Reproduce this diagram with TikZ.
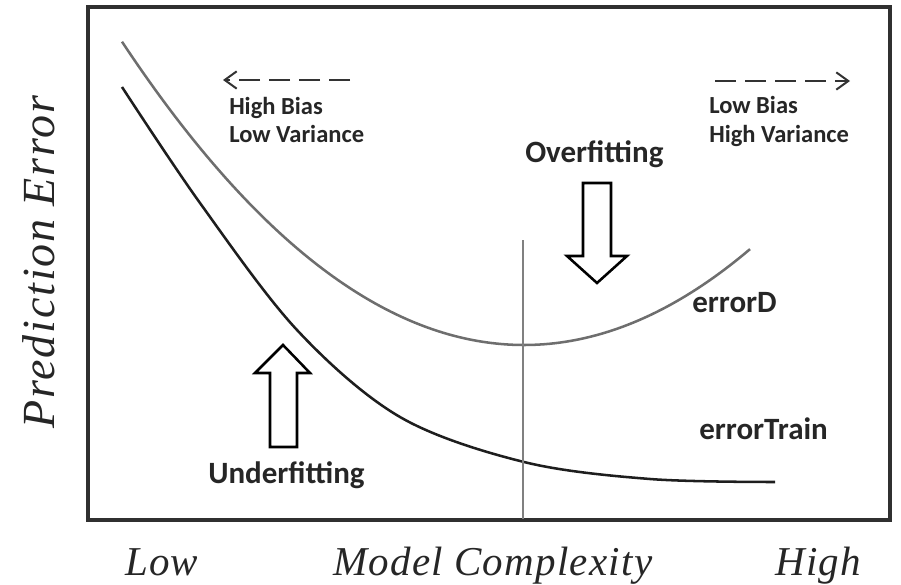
\documentclass[tikz,border=0pt]{standalone}
\usepackage{fontspec}
\setmainfont{Carlito}
\newfontfamily\axisfont{Liberation Serif}[LetterSpace=3]
\newfontfamily\axisfontwide{Liberation Serif}[LetterSpace=4]
\usetikzlibrary{arrows.meta}

\definecolor{frame}{HTML}{303030}
\definecolor{devcurve}{HTML}{6E6E6E}
\definecolor{traincurve}{HTML}{1E1E1E}
\definecolor{divider}{HTML}{808080}

\tikzset{
  biglabel/.style={font=\bfseries\fontsize{23.25pt}{28pt}\selectfont, inner sep=0pt, text=black!85},
  smalllabel/.style={font=\bfseries\fontsize{18.4pt}{22pt}\selectfont, inner sep=0pt, text=black!85},
  axislabel/.style={font=\axisfont\itshape\fontsize{30.75pt}{36pt}\selectfont, inner sep=0pt, text=black!85},
  trendarrow/.style={line width=1.5pt, dash pattern=on 15.75pt off 6.75pt, black!80,
    -{Straight Barb[length=9pt, width=13pt, line width=1.5pt]}},
  blockarrow/.style={draw=black, line width=1.9pt, fill=white, line join=miter},
}

\begin{document}
\begin{tikzpicture}[x=0.75pt, y=-0.75pt]
  \useasboundingbox (0,0) rectangle (901,585);

  % plot frame
  \draw[frame, line width=2.3pt] (88,7) rectangle (890,520);

  % validation error curve
  \draw[devcurve, line width=1.9pt, domain=122:750, samples=120]
    plot (\x, {345-0.001875*(\x-524)*(\x-524)});

  % training error curve
  \draw[traincurve, line width=1.9pt]
    plot[smooth, tension=0.55] coordinates
    {(122,87) (200,203) (297,330) (400,417) (524,462) (650,479) (775,482)};

  % best-complexity divider
  \coordinate (divtop) at (523,240);
  \coordinate (divbot) at (523,519);
  \draw[divider, line width=1.4pt] (divtop) -- (divbot);

  % trend arrows
  \coordinate (leftstart) at (350,80);
  \coordinate (leftend) at (223,80);
  \draw[trendarrow] (leftstart) -- (leftend);
  \coordinate (rightstart) at (715,81);
  \coordinate (rightend) at (850,81);
  \draw[trendarrow] (rightstart) -- (rightend);

  \node[smalllabel, anchor=base west] (hb) at (229,115) {High Bias};
  \node[smalllabel, anchor=base west] (lv) at (229,143) {Low Variance};
  \node[smalllabel, anchor=base west] (lb) at (709,114) {Low Bias};
  \node[smalllabel, anchor=base west] (hv) at (709,143) {High Variance};

  % overfitting marker
  \node[biglabel, anchor=base west] (over) at (525,162) {Overfitting};
  \draw[blockarrow] (583,183) -- (611,183) -- (611,256) -- (627,256) -- (597,283)
    -- (567,256) -- (583,256) -- cycle;

  % underfitting marker
  \draw[blockarrow] (270,447) -- (297,447) -- (297,373) -- (310,373) -- (283,345)
    -- (255,373) -- (270,373) -- cycle;
  \node[biglabel, anchor=base west] (under) at (208,483) {Underfitting};

  % curve names
  \node[biglabel, anchor=base west] (errd) at (692,312) {errorD};
  \node[biglabel, anchor=base west] (errt) at (699,439) {errorTrain};

  % axis titles
  \node[axislabel, anchor=base west] (low) at (125,575) {Low};
  \node[axislabel, anchor=base west] (mc) at (333,575) {Model Complexity};
  \node[axislabel, anchor=base west] (high) at (775,575) {High};
  \node[font=\axisfontwide\itshape\fontsize{34.5pt}{40pt}\selectfont, inner sep=0pt,
        text=black!85, rotate=90, anchor=base] (pe) at (55,262) {Prediction Error};
\end{tikzpicture}
\end{document}
